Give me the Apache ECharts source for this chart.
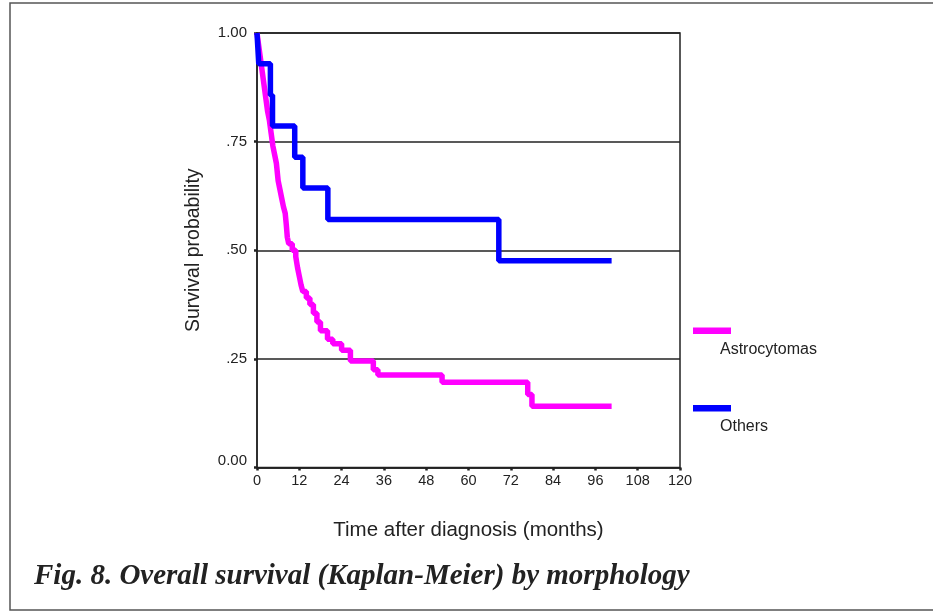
<!DOCTYPE html>
<html><head><meta charset="utf-8">
<script src="https://cdn.jsdelivr.net/npm/echarts@6/dist/echarts.min.js"></script>
<style>html,body{margin:0;padding:0;background:#fff}#c{width:933px;height:611px}</style>
</head><body><div id="c"></div>
<script>
const xTicks = [0, 12, 24, 36, 48, 60, 72, 84, 96, 108, 120];
const yTickLabels = {0: '0.00', 0.25: '.25', 0.5: '.50', 0.75: '.75', 1: '1.00'};
const astroTimes = [0, 0.5, 1, 1.5, 2, 2.5, 3, 3.5, 4, 4.5, 5, 5.5, 6, 6.5, 7, 7.5, 8, 8.3, 8.6, 9, 10, 11, 11.5, 12, 12.5, 13, 14, 15, 16, 17, 18, 20, 21.5, 24, 26.5, 33, 34.3, 52.5, 76.8, 78, 100.6];
const astroSurv  = [1, 0.97, 0.94, 0.91, 0.88, 0.85, 0.82, 0.80, 0.77, 0.74, 0.72, 0.70, 0.66, 0.64, 0.62, 0.60, 0.585, 0.56, 0.53, 0.515, 0.50, 0.485, 0.46, 0.44, 0.42, 0.405, 0.39, 0.375, 0.355, 0.335, 0.315, 0.295, 0.285, 0.27, 0.245, 0.225, 0.213, 0.196, 0.168, 0.141, 0.141];
const otherTimes = [0, 0.5, 3.8, 4.4, 10.7, 13, 20.1, 68.6, 100.6];
const otherSurv  = [1, 0.929, 0.857, 0.786, 0.714, 0.643, 0.571, 0.476, 0.476];
const seriesNames = ['Astrocytomas', 'Others'];
const seriesColors = ['#ff00ff', '#0000ff'];

const chart = echarts.init(document.getElementById('c'), null, {renderer: 'canvas'});
const font = 'Liberation Sans, Arial, sans-serif';
const zip = (a, b) => a.map((v, i) => [v, b[i]]);

chart.setOption({
  backgroundColor: '#fff',
  animation: false,
  grid: {left: 257, right: 253, top: 33, bottom: 143.5, show: true, borderColor: '#222', borderWidth: 1.5},
  xAxis: {
    type: 'value', min: 0, max: 120, interval: 12,
    name: 'Time after diagnosis (months)', nameLocation: 'middle', nameGap: 52,
    nameTextStyle: {fontFamily: font, fontSize: 20.5, color: '#222'},
    axisLine: {lineStyle: {color: '#222', width: 1.5}},
    axisTick: {show: true, length: 3, lineStyle: {color: '#222', width: 2.5}},
    axisLabel: {fontFamily: font, fontSize: 14.5, color: '#222', margin: 6,
      formatter: v => xTicks.includes(v) ? String(v) : ''},
    splitLine: {show: false}
  },
  yAxis: {
    type: 'value', min: 0, max: 1, interval: 0.25,
    name: 'Survival probability', nameLocation: 'middle', nameGap: 53,
    nameTextStyle: {fontFamily: font, fontSize: 19.5, color: '#222'},
    axisLine: {show: true, lineStyle: {color: '#222', width: 1.5}},
    axisTick: {show: true, length: 3, lineStyle: {color: '#222', width: 2.5}},
    axisLabel: {fontFamily: font, fontSize: 15, color: '#222', margin: 10,
      formatter: v => v === 0 ? '{z|0.00}' : yTickLabels[v],
      rich: {z: {fontFamily: font, fontSize: 15, color: '#222', padding: [0, 0, 14, 0]}}},
    splitLine: {show: true, lineStyle: {color: '#222', width: 1.5}}
  },
  series: [
    {name: seriesNames[0], type: 'line', step: 'end', showSymbol: false, symbol: 'none',
     data: zip(astroTimes, astroSurv), lineStyle: {color: seriesColors[0], width: 5.5}, z: 3},
    {name: seriesNames[1], type: 'line', step: 'end', showSymbol: false, symbol: 'none',
     data: zip(otherTimes, otherSurv), lineStyle: {color: seriesColors[1], width: 5.5}, z: 4}
  ],
  graphic: [
    {type: 'rect', shape: {x: 10, y: 3, width: 1000, height: 607}, style: {fill: 'none', stroke: '#555', lineWidth: 1.5}, silent: true},
    {type: 'rect', shape: {x: 693, y: 327.5, width: 38, height: 6.5}, style: {fill: seriesColors[0]}},
    {type: 'text', x: 720, y: 350, style: {text: seriesNames[0], fontFamily: font, fontSize: 16, fill: '#222', verticalAlign: 'middle'}},
    {type: 'rect', shape: {x: 693, y: 405, width: 38, height: 6.5}, style: {fill: seriesColors[1]}},
    {type: 'text', x: 720, y: 427, style: {text: seriesNames[1], fontFamily: font, fontSize: 16, fill: '#222', verticalAlign: 'middle'}},
    {type: 'text', x: 34, y: 577, style: {text: 'Fig. 8. Overall survival (Kaplan-Meier) by morphology', fontFamily: 'Liberation Serif, Times New Roman, serif', fontSize: 29, fontWeight: 'bold', fontStyle: 'italic', fill: '#222', verticalAlign: 'middle'}}
  ]
});
</script></body></html>
